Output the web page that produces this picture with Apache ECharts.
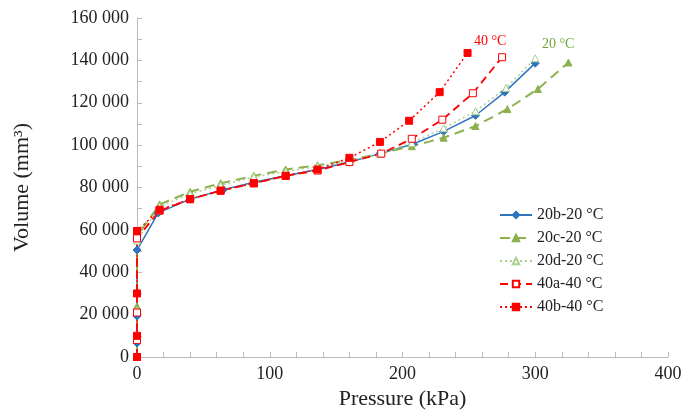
<!DOCTYPE html>
<html>
<head>
<meta charset="utf-8">
<script src="https://cdn.jsdelivr.net/npm/echarts@6/dist/echarts.min.js"></script>
<style>html,body{margin:0;padding:0;background:#fff}</style>
</head>
<body>
<div id="main" style="width:699px;height:420px"></div>
<script>
var names = ['20b-20 °C', '20c-20 °C', '20d-20 °C', '40a-40 °C', '40b-40 °C'];
var s20b = [[0,0],[0,6600],[0,19300],[0,50500],[16,68000],[40,74500],[65,79000],[88,82500],[112,85500],[136,88500],[160,92000],[183,96000],[208,100500],[231,106500],[255,114000],[277,125000],[300,138700]];
var s20c = [[0,0],[0,24000],[0,57000],[17,72000],[40,78000],[63,82000],[88,85500],[112,88500],[136,90500],[160,93000],[183,96000],[207,99500],[231,103500],[255,109000],[279,117000],[302,126500],[325,139000]];
var s20d = [[0,0],[0,22000],[0,55000],[17,71000],[40,77000],[63,81000],[88,85000],[112,87500],[136,90000],[160,92500],[183,96000],[207,101000],[231,108000],[255,116000],[278,127000],[300,141000]];
var s40a = [[0,0],[0,8000],[0,21000],[0,56000],[17,69000],[40,74500],[63,78500],[88,82000],[112,85500],[136,88000],[160,92000],[184,96000],[207,103000],[230,112000],[253,124500],[275,141500]];
var s40b = [[0,0],[0,10000],[0,30000],[0,59500],[17,69500],[40,74500],[63,78500],[88,82000],[112,85500],[136,88500],[160,94000],[183,101500],[205,111500],[228,125000],[249,143500]];

var font = 'Liberation Serif';
function fmt(v) {
    return String(v).replace(/\B(?=(\d{3})+(?!\d))/g, ' ');
}
function ser(name, data, color, type, symbol, size, fill, width) {
    return {
        name: name, type: 'line', data: data,
        symbol: symbol, symbolSize: size,
        lineStyle: {color: color, type: type, width: width},
        itemStyle: {color: fill ? color : '#fff', borderColor: color, borderWidth: 1},
        color: color
    };
}

var chart = echarts.init(document.getElementById('main'));
chart.setOption({
    animation: false,
    grid: {left: 137, right: 31, top: 18, bottom: 63},
    legend: {
        orient: 'vertical', left: 494, top: 202, itemGap: 7,
        itemWidth: 32, itemHeight: 8,
        textStyle: {fontFamily: font, fontSize: 16, color: '#222'},
        data: names
    },
    xAxis: {
        type: 'value', min: 0, max: 400, interval: 100,
        name: 'Pressure (kPa)', nameLocation: 'middle', nameGap: 29,
        nameTextStyle: {fontFamily: font, fontSize: 22, color: '#222'},
        axisLine: {lineStyle: {color: '#bbb'}},
        axisTick: {show: true, inside: true, length: 5, lineStyle: {color: '#bbb'}},
        minorTick: {show: true, splitNumber: 5, length: 5, lineStyle: {color: '#bbb'}},
        axisLabel: {fontFamily: font, fontSize: 18, color: '#222'},
        splitLine: {show: false}
    },
    yAxis: {
        type: 'value', min: 0, max: 160000, interval: 20000,
        name: 'Volume (mm³)', nameLocation: 'middle', nameGap: 104,
        nameTextStyle: {fontFamily: font, fontSize: 22, color: '#222'},
        axisLine: {show: true, lineStyle: {color: '#bbb'}},
        axisTick: {show: true, inside: true, length: 5, lineStyle: {color: '#bbb'}},
        minorTick: {show: true, splitNumber: 2, length: 5, lineStyle: {color: '#bbb'}},
        axisLabel: {fontFamily: font, fontSize: 18, color: '#222', formatter: fmt},
        splitLine: {show: false}
    },
    graphic: [
        {type: 'text', left: 474, top: 34, style: {text: '40 °C', fill: '#ff0000', font: '14px "Liberation Serif"'}},
        {type: 'text', left: 542, top: 37, style: {text: '20 °C', fill: '#70a838', font: '14px "Liberation Serif"'}}
    ],
    series: [
        ser(names[0], s20b, '#2e75c0', 'solid', 'diamond', 8, true, 1.5),
        ser(names[1], s20c, '#8db04f', [10, 6], 'triangle', 7, true, 2),
        ser(names[2], s20d, '#a9d08e', [2, 3], 'triangle', 7, false, 1.5),
        ser(names[3], s40a, '#ff0000', [8, 5], 'rect', 7, false, 1.8),
        ser(names[4], s40b, '#ff0000', [2, 3], 'rect', 7, true, 1.5)
    ]
});
</script>
</body>
</html>
